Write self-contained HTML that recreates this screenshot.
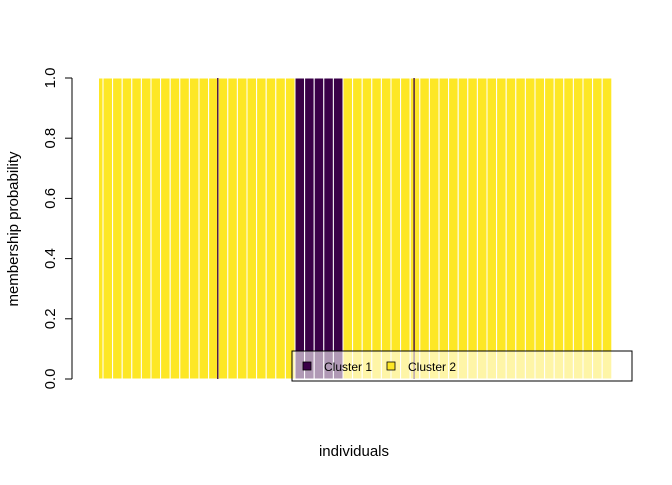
<!DOCTYPE html>
<html><head><meta charset="utf-8"><style>
body{margin:0;background:#fff;}
svg text{font-family:"Liberation Sans",Arial,sans-serif;}
</style></head><body>
<svg id="chart" width="672" height="480" viewBox="0 0 672 480">
<defs><clipPath id="clip"><rect x="99" y="0" width="514" height="480"/></clipPath></defs>
<g id="bars" clip-path="url(#clip)"></g>
<g id="yaxis"></g>
<text x="0" y="0" transform="translate(18,229) rotate(-90)" text-anchor="middle" font-size="15">membership probability</text>
<text x="354" y="456" text-anchor="middle" font-size="15">individuals</text>
<g>
<rect x="292" y="351" width="340" height="30" fill="rgba(255,255,255,0.6)" stroke="#000" stroke-width="1"/>
<g>
<rect x="303" y="362" width="8" height="8" fill="#3a0048" stroke="#000" stroke-width="0.8"/>
<text x="324" y="371" font-size="12">Cluster 1</text></g>
<g>
<rect x="387" y="362" width="8" height="8" fill="#fde725" stroke="#000" stroke-width="0.8"/>
<text x="408" y="371" font-size="12">Cluster 2</text></g>
</g>
</svg>
<script>
// cluster 1 membership probability per individual (54 slots)
const cluster1 = [0,0,0,0,0,0,0,0,0,0,0,0,0,0,0,0,0,0,0,0,0,1,1,1,1,1,0,0,0,0,0,0,0,0,0,0,0,0,0,0,0,0,0,0,0,0,0,0,0,0,0,0,0,0];
// narrow individuals fully assigned to cluster 1 (fractional slot positions)
const thinIdx = [12.95, 33.4];
const yTicks = [0, 0.2, 0.4, 0.6, 0.8, 1.0];
const yLabels = ["0.0","0.2","0.4","0.6","0.8","1.0"];
const NS="http://www.w3.org/2000/svg";
const x0=93.4, bw=9.6, yTop=78, yBot=379;
const xs=i=>x0+i*bw;
const ys=v=>yBot-(yBot-yTop)*v;
const g=document.getElementById('bars');
cluster1.forEach((p,i)=>{
  const a=document.createElementNS(NS,'rect');
  
  
  a.setAttribute('x',xs(i));a.setAttribute('width',bw);
  a.setAttribute('y',ys(1-p+p)); // top
  a.setAttribute('y',ys(1));a.setAttribute('height',ys(p)-ys(1)>=0?ys(0)-ys(1-p):0);
  a.setAttribute('y',ys(1-p));a.setAttribute('height',ys(0)-ys(1-p));
  a.setAttribute('fill','#fde725');a.setAttribute('stroke','#fff');a.setAttribute('stroke-width','1');
  g.appendChild(a);
  const b=document.createElementNS(NS,'rect');
  
  
  b.setAttribute('x',xs(i));b.setAttribute('width',bw);
  b.setAttribute('y',ys(1));b.setAttribute('height',ys(1-p)-ys(1));
  b.setAttribute('fill','#3a0048');b.setAttribute('stroke','#fff');b.setAttribute('stroke-width','1');
  g.appendChild(b);
});
thinIdx.forEach(t=>{
  const r=document.createElementNS(NS,'rect');
  
  
  r.setAttribute('x',xs(t)-0.6);r.setAttribute('width',1.3);
  r.setAttribute('y',ys(1));r.setAttribute('height',ys(0)-ys(1));
  r.setAttribute('fill','#3a0048');
  g.appendChild(r);
});
const ya=document.getElementById('yaxis');
const ln=document.createElementNS(NS,'line');


ln.setAttribute('x1',72);ln.setAttribute('x2',72);ln.setAttribute('y1',ys(0));ln.setAttribute('y2',ys(1));ln.setAttribute('stroke','#000');
ya.appendChild(ln);
yTicks.forEach((v,i)=>{
  const t=document.createElementNS(NS,'line');
  
  
  t.setAttribute('x1',65);t.setAttribute('x2',72);t.setAttribute('y1',ys(v));t.setAttribute('y2',ys(v));t.setAttribute('stroke','#000');
  ya.appendChild(t);
  const l=document.createElementNS(NS,'text');
  
  
  l.setAttribute('transform','translate(55,'+ys(v)+') rotate(-90)');
  l.setAttribute('text-anchor','middle');l.setAttribute('font-size','15');
  l.textContent=yLabels[i];
  ya.appendChild(l);
});
</script>
</body></html>
